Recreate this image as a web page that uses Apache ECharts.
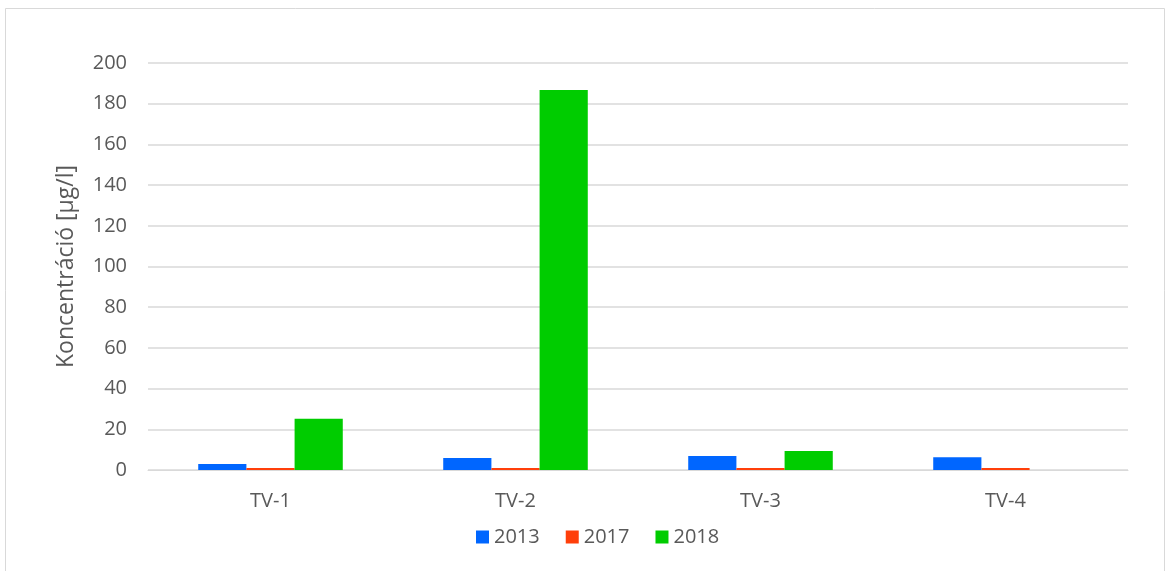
<!DOCTYPE html>
<html><head><meta charset="utf-8">
<script src="https://cdn.jsdelivr.net/npm/echarts@6/dist/echarts.min.js"></script>
<style>html,body{margin:0;padding:0;background:#fff}#c{width:1166px;height:571px}</style>
</head><body><div id="c"></div>
<script>
const categories = ['TV-1', 'TV-2', 'TV-3', 'TV-4'];
const seriesNames = ['2013', '2017', '2018'];
const values2013 = [3.0, 5.9, 6.9, 6.3];
const values2017 = [1.0, 1.0, 1.0, 1.0];
const values2018 = [25.2, 186.7, 9.3, 0];
const colors = ['#0066FF', '#FF3F0A', '#00CC00'];
const yAxisTitle = 'Koncentráció [µg/l]';

const font = 'Open Sans';
const chart = echarts.init(document.getElementById('c'), null, {renderer: 'canvas'});
const data = [values2013, values2017, values2018];
chart.setOption({
  animation: false,
  backgroundColor: '#fff',
  graphic: [{type: 'rect', shape: {x: 5.5, y: 8.5, width: 1159, height: 570}, style: {fill: 'none', stroke: '#d9d9d9', lineWidth: 1}, silent: true}],
  grid: {left: 148, right: 38, top: 63, bottom: 101, containLabel: false},
  legend: {
    bottom: 19, left: 471, itemWidth: 13, itemHeight: 13, itemGap: 26,
    icon: 'rect',
    textStyle: {color: '#595959', fontSize: 20, fontFamily: font},
    data: seriesNames
  },
  xAxis: {
    type: 'category', data: categories,
    axisLine: {lineStyle: {color: '#d9d9d9', width: 1}},
    axisTick: {show: false},
    axisLabel: {color: '#595959', fontSize: 20, fontFamily: font, margin: 21}
  },
  yAxis: {
    type: 'value', min: 0, max: 200, interval: 20,
    name: yAxisTitle, nameLocation: 'middle', nameGap: 70, nameRotate: 90,
    nameTextStyle: {color: '#595959', fontSize: 23, fontFamily: font},
    axisLine: {show: false}, axisTick: {show: false},
    axisLabel: {color: '#595959', fontSize: 20, fontFamily: font, margin: 21},
    splitLine: {lineStyle: {color: '#d9d9d9', width: 1.5}}
  },
  series: seriesNames.map((n, i) => ({
    name: n, type: 'bar', data: data[i],
    barGap: '0%', barCategoryGap: '41%',
    itemStyle: {color: colors[i]}
  }))
});
</script></body></html>
